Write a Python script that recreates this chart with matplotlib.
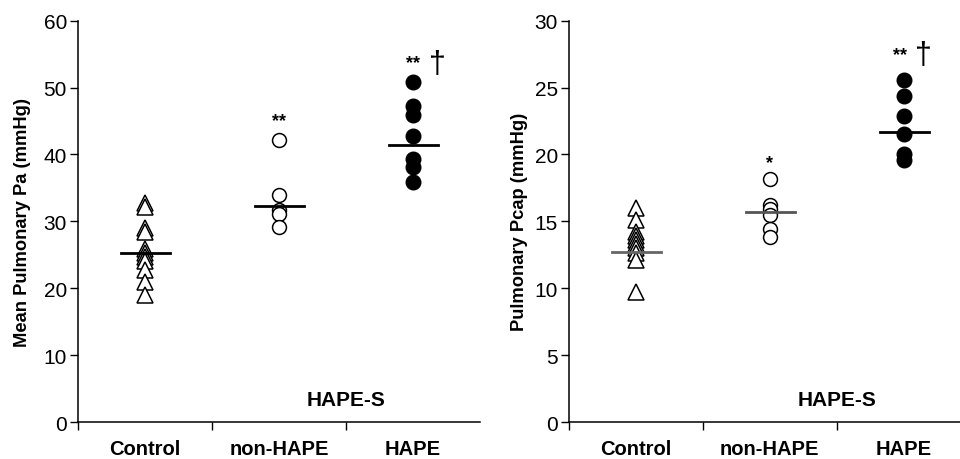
import matplotlib
matplotlib.use("Agg")
import matplotlib.pyplot as plt

plt.rcParams['font.family'] = ['Liberation Sans', 'DejaVu Sans']

# categories
groups = ["Control", "non-HAPE", "HAPE"]

# left panel: mean pulmonary artery pressure (mmHg)
pa_control = [32.8, 32.2, 29.0, 28.4, 25.8, 25.2, 24.6, 24.0, 22.8, 21.0, 19.0]
pa_nonhape = [42.1, 33.9, 31.7, 31.1, 29.1]
pa_hape = [50.9, 47.3, 45.9, 42.8, 39.3, 38.1, 35.9]
pa_lines = [25.2, 32.3, 41.4]

# right panel: pulmonary capillary pressure (mmHg)
pc_control = [16.0, 15.1, 14.2, 13.9, 13.6, 13.3, 13.0, 12.6, 12.1, 9.7]
pc_nonhape = [18.2, 16.2, 15.9, 15.5, 14.4, 13.8]
pc_hape = [25.6, 24.4, 22.9, 21.5, 20.0, 19.6]
pc_lines = [12.7, 15.7, 21.7]


def panel(ax, control, nonhape, hape, lines, line_colors, ylim, yticks,
          ylabel, labelpad, xmax, marks, dagger_x, dagger_y, hapes_y):
    ax.plot([0.5] * len(control), control, ls="none", marker="^", ms=12,
            mfc="white", mec="black", mew=1.1)
    ax.plot([1.5] * len(nonhape), nonhape, ls="none", marker="o", ms=10,
            mfc="white", mec="black", mew=1.1)
    ax.plot([2.5] * len(hape), hape, ls="none", marker="o", ms=10.5,
            mfc="black", mec="black")
    for i, v in enumerate(lines):
        ax.plot([i + 0.32, i + 0.69], [v, v], color=line_colors[i], lw=2,
                zorder=3)

    for x, y, s in marks:
        ax.text(x, y, s, ha="center", va="center", fontsize=13,
                fontweight="bold")
    ax.text(dagger_x, dagger_y, "\u2020", ha="center", va="center",
            fontsize=22)
    ax.text(2.0, hapes_y, "HAPE-S", ha="center", va="center", fontsize=15,
            fontweight="bold")

    ax.set_xlim(0, xmax)
    ax.set_ylim(*ylim)
    ax.set_yticks(yticks)
    ax.set_xticks([0, 1, 2])
    ax.set_xticklabels([])
    ax.set_xticks([0.5, 1.5, 2.5], minor=True)
    ax.set_xticklabels(groups, minor=True, fontsize=14.5, fontweight="bold")
    ax.tick_params(axis="x", which="minor", length=0, pad=12)
    ax.tick_params(axis="x", which="major", length=6, width=1)
    ax.tick_params(axis="y", length=6, width=1, labelsize=15, pad=2)
    ax.spines["top"].set_visible(False)
    ax.spines["right"].set_visible(False)
    ax.spines["left"].set_linewidth(1.1)
    ax.spines["bottom"].set_linewidth(1.1)
    ax.set_ylabel(ylabel, fontsize=13.2, fontweight="bold", labelpad=labelpad)


fig = plt.figure(figsize=(9.6, 4.6), dpi=100)
ax1 = fig.add_axes([0.08125, 0.0804, 0.41875, 0.8724])
ax2 = fig.add_axes([0.5927, 0.0804, 0.4073, 0.8724])

panel(ax1, pa_control, pa_nonhape, pa_hape, pa_lines,
      ["black", "black", "black"], (0, 60), range(0, 61, 10),
      "Mean Pulmonary Pa (mmHg)", 9, 3.0,
      [(1.5, 45.0, "**"), (2.5, 53.8, "**")], 2.68, 53.6, 3.4)
panel(ax2, pc_control, pc_nonhape, pc_hape, pc_lines,
      ["#666666", "#555555", "black"], (0, 30), range(0, 31, 5),
      "Pulmonary Pcap (mmHg)", 5, 2.92,
      [(1.5, 19.4, "*"), (2.47, 27.5, "**")], 2.65, 27.4, 1.7)

fig.savefig("out.png", dpi=100)
